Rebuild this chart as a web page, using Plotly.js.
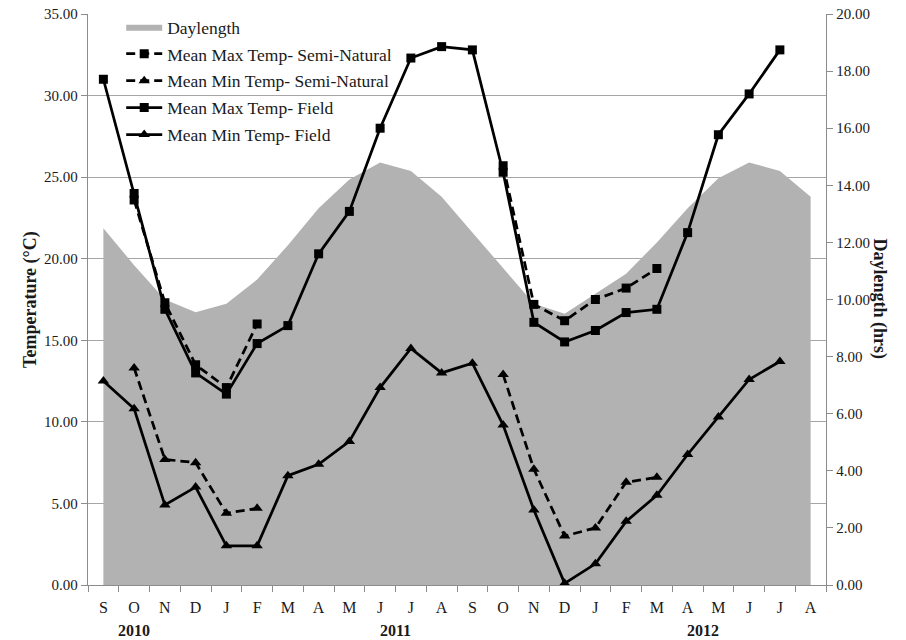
<!DOCTYPE html>
<html>
<head>
<meta charset="utf-8">
<script src="https://cdn.plot.ly/plotly-3.0.1.min.js"></script>
<style>
  html, body { margin: 0; padding: 0; background: #fff; }
  #chart { width: 906px; height: 640px; }
</style>
</head>
<body>
<div id="chart"></div>
<script>
// Monthly records, September 2010 to August 2012
const months = ['S','O','N','D','J','F','M','A','M','J','J','A',
                'S','O','N','D','J','F','M','A','M','J','J','A'];
const years = [
  {label: '2010', pos: 1},
  {label: '2011', pos: 9.5},
  {label: '2012', pos: 19.5}
];

// Day length (hours), right axis
const daylength = [12.5, 11.2, 10.0, 9.55, 9.85, 10.7, 11.9, 13.2, 14.2, 14.8, 14.5, 13.6,
                   12.35, 11.1, 9.85, 9.5, 10.2, 10.9, 12.0, 13.2, 14.25, 14.8, 14.5, 13.6];

// Temperatures (°C), left axis; null = no record
const maxSemiNatural = [null, 23.6, 17.3, 13.5, 12.1, 16.0, null, null, null, null, null, null,
                        null, 25.7, 17.2, 16.2, 17.5, 18.2, 19.4, null, null, null, null, null];
const minSemiNatural = [null, 13.3, 7.7, 7.5, 4.4, 4.7, null, null, null, null, null, null,
                        null, 12.9, 7.1, 3.0, 3.5, 6.3, 6.6, null, null, null, null, null];
const maxField = [31.0, 24.0, 16.9, 13.0, 11.7, 14.8, 15.9, 20.3, 22.9, 28.0, 32.3, 33.0,
                  32.8, 25.3, 16.1, 14.9, 15.6, 16.7, 16.9, 21.6, 27.6, 30.1, 32.8, null];
const minField = [12.5, 10.8, 4.9, 6.0, 2.4, 2.4, 6.7, 7.4, 8.8, 12.1, 14.5, 13.0,
                  13.6, 9.8, 4.6, 0.1, 1.3, 3.9, 5.5, 8.0, 10.3, 12.6, 13.7, null];

const TEMP_MAX = 35, TEMP_STEP = 5, DAY_MAX = 20, DAY_STEP = 2;

const idx = months.map((_, i) => i);
const serif = 'Liberation Serif, Times New Roman, serif';
const ink = '#1a1a1a';
const axisGrey = '#8c8c8c';
const dashStyle = '9px,5px';

// Temperature gridlines live on the daylength (base) axis so the grey area covers them
const gridVals = [];
for (let t = TEMP_STEP; t <= TEMP_MAX; t += TEMP_STEP) gridVals.push(t * DAY_MAX / TEMP_MAX);

function tempTrace(name, values, dash, symbol, group) {
  return {
    x: idx, y: values, name: name, type: 'scatter', mode: 'lines+markers',
    yaxis: 'y2', legendgroup: group, connectgaps: false,
    line: {color: '#000', width: 2.75, dash: dash},
    marker: {symbol: symbol, size: symbol === 'square' ? 9 : 10, color: '#000'},
    hoverinfo: 'skip'
  };
}

const traces = [
  {
    x: idx, y: daylength, name: 'Daylength', type: 'scatter', mode: 'lines',
    yaxis: 'y', fill: 'tozeroy', fillcolor: '#b2b2b2', legendgroup: 'g0',
    line: {width: 0, color: '#b2b2b2'}, hoverinfo: 'skip'
  },
  tempTrace('Mean Max Temp- Semi-Natural', maxSemiNatural, dashStyle, 'square', 'g1'),
  tempTrace('Mean Min Temp- Semi-Natural', minSemiNatural, dashStyle, 'triangle-up', 'g2'),
  tempTrace('Mean Max Temp- Field', maxField, 'solid', 'square', 'g3'),
  tempTrace('Mean Min Temp- Field', minField, 'solid', 'triangle-up', 'g4')
];

const boundaries = [];
for (let i = -0.5; i <= months.length - 0.5; i += 1) boundaries.push(i);

const annotations = years.map(y => ({
  x: y.pos, xref: 'x', y: -0.08, yref: 'paper', text: '<b>' + y.label + '</b>',
  showarrow: false, font: {family: serif, size: 16, color: ink}, yanchor: 'middle'
}));
annotations.push({
  x: -0.095, xref: 'paper', y: 0.5, yref: 'paper', text: '<b>Temperature (°C)</b>',
  textangle: -90, showarrow: false, font: {family: serif, size: 18, color: ink}
});
annotations.push({
  x: 1.09, xref: 'paper', y: 0.5, yref: 'paper', text: '<b>Daylength (hrs)</b>',
  textangle: 90, showarrow: false, font: {family: serif, size: 18, color: ink}
});

const layout = {
  width: 906, height: 640,
  margin: {l: 88, r: 80, t: 14, b: 55, autoexpand: false},
  paper_bgcolor: '#fff', plot_bgcolor: '#fff',
  font: {family: serif, color: ink},
  showlegend: true,
  legend: {
    x: 0.045, y: 1.009, xanchor: 'left', yanchor: 'top',
    bgcolor: 'rgba(0,0,0,0)', borderwidth: 0,
    font: {family: serif, size: 17.5, color: ink},
    traceorder: 'grouped', tracegroupgap: 1.2, itemwidth: 36
  },
  xaxis: {
    range: [-0.5, months.length - 0.5],
    tickvals: idx, ticktext: months, ticks: '', ticklabelstandoff: 8,
    tickfont: {family: serif, size: 16, color: ink},
    showgrid: false, zeroline: false,
    showline: true, linecolor: axisGrey, linewidth: 1.2,
    minor: {tickvals: boundaries, ticks: 'outside', ticklen: 6, tickcolor: axisGrey, showgrid: false}
  },
  // base axis: daylength on the right, carries the horizontal gridlines
  yaxis: {
    range: [0, DAY_MAX], dtick: DAY_STEP, tick0: 0, tickformat: '.2f', side: 'right',
    ticks: 'outside', ticklen: 6, tickcolor: axisGrey,
    tickfont: {family: serif, size: 15, color: ink},
    showgrid: false, zeroline: false, showline: true, linecolor: axisGrey, linewidth: 1.2,
    minor: {tickvals: gridVals, ticks: '', showgrid: true, gridcolor: '#a6a6a6', gridwidth: 1.2}
  },
  // overlay axis: temperature on the left
  yaxis2: {
    range: [0, TEMP_MAX], dtick: TEMP_STEP, tick0: 0, tickformat: '.2f',
    overlaying: 'y', side: 'left',
    ticks: 'outside', ticklen: 6, tickcolor: axisGrey,
    tickfont: {family: serif, size: 15, color: ink},
    showgrid: false, zeroline: false, showline: true, linecolor: axisGrey, linewidth: 1.2
  },
  annotations: annotations
};

Plotly.newPlot('chart', traces, layout, {displayModeBar: false, staticPlot: true});
</script>
</body>
</html>
